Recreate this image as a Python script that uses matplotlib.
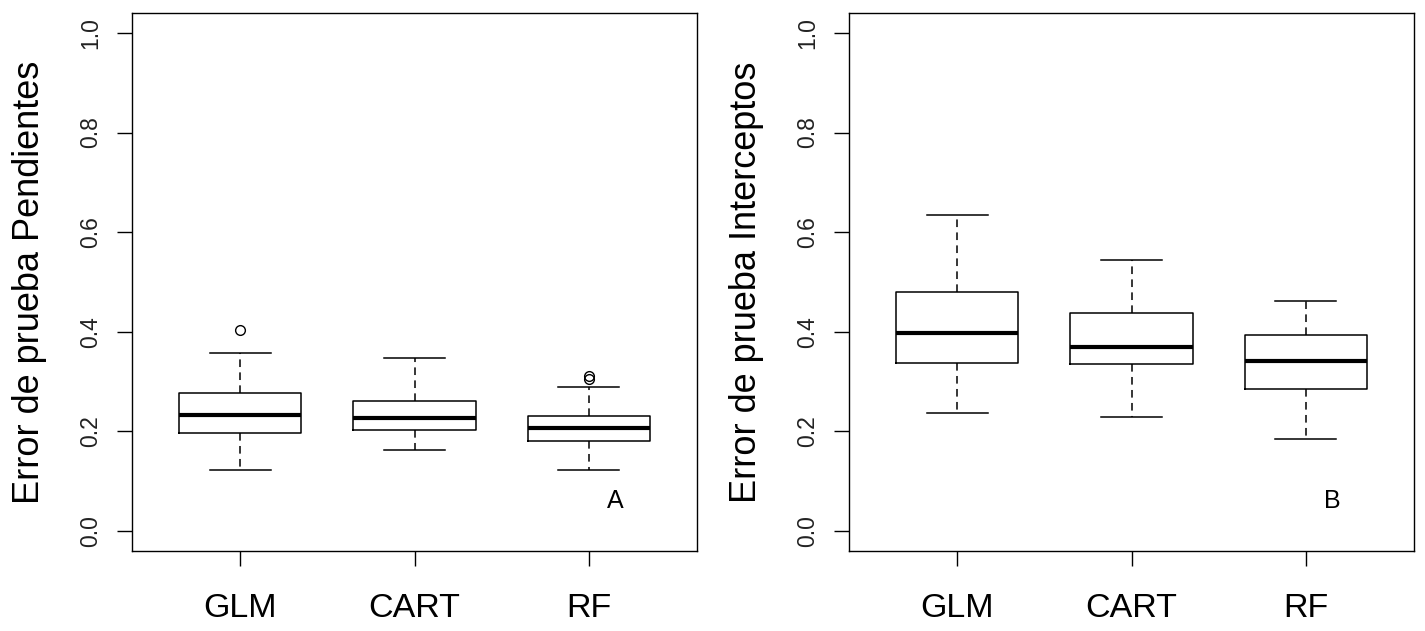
import matplotlib
matplotlib.use("Agg")
import matplotlib.pyplot as plt

plt.rcParams['font.family'] = ['Liberation Sans', 'DejaVu Sans']

categories = ["GLM", "CART", "RF"]

# Panel A: Error de prueba Pendientes
pend_whislo = [0.123, 0.163, 0.123]
pend_q1 = [0.196, 0.203, 0.181]
pend_med = [0.233, 0.227, 0.206]
pend_q3 = [0.277, 0.262, 0.231]
pend_whishi = [0.357, 0.347, 0.289]
pend_fliers = [[0.403], [], [0.312, 0.305]]

# Panel B: Error de prueba Interceptos
inter_whislo = [0.237, 0.230, 0.185]
inter_q1 = [0.338, 0.335, 0.285]
inter_med = [0.397, 0.369, 0.341]
inter_q3 = [0.480, 0.437, 0.394]
inter_whishi = [0.634, 0.545, 0.462]
inter_fliers = [[], [], []]

yticks = [0.0, 0.2, 0.4, 0.6, 0.8, 1.0]
ytick_labels = ["0.0", "0.2", "0.4", "0.6", "0.8", "1.0"]

panels = [
    ("Error de prueba Pendientes", pend_whislo, pend_q1, pend_med, pend_q3, pend_whishi, pend_fliers, "A"),
    ("Error de prueba Interceptos", inter_whislo, inter_q1, inter_med, inter_q3, inter_whishi, inter_fliers, "B"),
]

W, H = 1425, 631
fig = plt.figure(figsize=(W / 100, H / 100), dpi=100)

lefts = [132, 849]
for (ylabel, wlo, q1, med, q3, whi, fl, letter), left in zip(panels, lefts):
    ax = fig.add_axes([left / W, (H - 551) / H, 565 / W, 538 / H])
    stats = []
    for i, name in enumerate(categories):
        stats.append(dict(label=name, whislo=wlo[i], q1=q1[i], med=med[i],
                          q3=q3[i], whishi=whi[i], fliers=fl[i]))
    ax.bxp(stats, positions=[1, 2, 3], widths=0.7, showfliers=True,
           boxprops=dict(color='black', linewidth=1.1),
           medianprops=dict(color='black', linewidth=3.0, solid_capstyle='butt'),
           whiskerprops=dict(color='black', linewidth=1.1, linestyle=(0, (5, 3.5))),
           capprops=dict(color='black', linewidth=1.1),
           capwidths=0.35,
           flierprops=dict(marker='o', markerfacecolor='none', markeredgecolor='black',
                           markersize=7, markeredgewidth=1.0))
    ax.set_xlim(0.38, 3.62)
    ax.set_ylim(-0.04, 1.04)
    ax.set_yticks(yticks)
    ax.set_yticklabels(ytick_labels, rotation=90, va='center', fontsize=16.5, color='#222222')
    ax.set_xticks([1, 2, 3])
    ax.set_xticklabels(categories, fontsize=24.5)
    ax.tick_params(axis='y', length=10.5, width=1.0, pad=11)
    ax.tick_params(axis='x', length=10.5, width=1.0, pad=20)
    for sp in ax.spines.values():
        sp.set_linewidth(1.0)
    ax.set_ylabel(ylabel, fontsize=26)
    ax.yaxis.set_label_coords(-0.151, 0.5)
    ax.text(3.15, 0.06, letter, fontsize=18, ha='center', va='center')

fig.savefig("out.png", dpi=100)
